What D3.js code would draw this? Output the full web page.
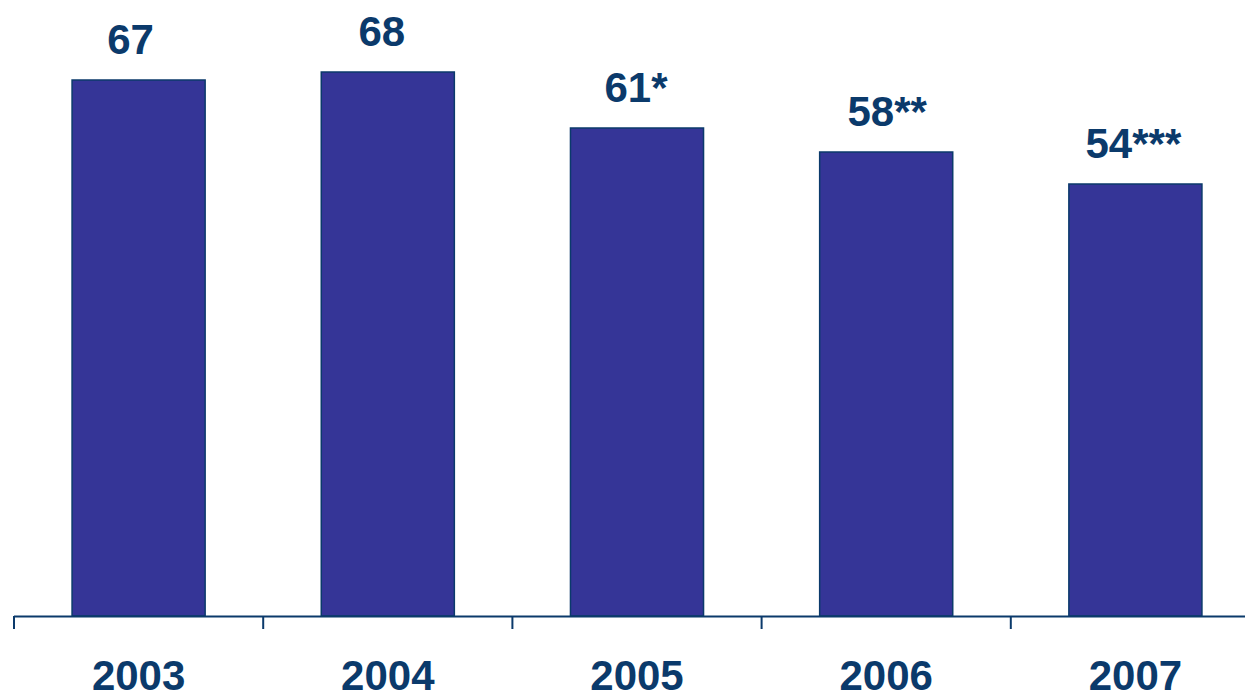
<!DOCTYPE html>
<html>
<head>
<meta charset="utf-8">
<script src="https://cdn.jsdelivr.net/npm/d3@7"></script>
<style>
  html, body { margin: 0; padding: 0; background: #ffffff; }
  svg { display: block; }
</style>
</head>
<body>
<svg id="chart" width="1245" height="694"></svg>
<script>
// Yearly values and their annotated labels
const years = ["2003", "2004", "2005", "2006", "2007"];
const values = [67, 68, 61, 58, 54];
const valueLabels = ["67", "68", "61*", "58**", "54***"];

const svg = d3.select("#chart");
const ink = "#0b3a6b";
const barFill = "#353597";

const x = d3.scaleBand()
  .domain(years)
  .range([14, 1260])
  .paddingInner(0.466)
  .paddingOuter(0.233);

const y = d3.scaleLinear()
  .domain([0, 77])
  .range([616, 0]);

// Bars
svg.selectAll("rect.bar")
  .data(years)
  .join("rect")
  .attr("class", "bar")
  .attr("x", d => x(d))
  .attr("width", x.bandwidth())
  .attr("y", (d, i) => y(values[i]))
  .attr("height", (d, i) => y(0) - y(values[i]))
  .attr("fill", barFill)
  .attr("stroke", ink)
  .attr("stroke-width", 1.5);

// Value labels above bars (the short labels sit a little left of centre)
const labelShift = [-8, -6, -1, 1, -2];
svg.selectAll("text.value")
  .data(years)
  .join("text")
  .attr("class", "value")
  .attr("x", (d, i) => x(d) + x.bandwidth() / 2 + labelShift[i])
  .attr("y", (d, i) => y(values[i]) - 26)
  .attr("text-anchor", "middle")
  .attr("font-family", "Liberation Sans, Arial, sans-serif")
  .attr("font-weight", "bold")
  .attr("font-size", 42)
  .attr("fill", ink)
  .text((d, i) => valueLabels[i]);

// Category axis: baseline with ticks at band boundaries
const axis = svg.append("g");
axis.append("line")
  .attr("x1", x.range()[0])
  .attr("x2", 1245)
  .attr("y1", y(0) + 0.5)
  .attr("y2", y(0) + 0.5)
  .attr("stroke", ink)
  .attr("stroke-width", 2);

const step = x.step();
const bounds = d3.range(years.length + 1).map(i => x.range()[0] + i * step);
axis.selectAll("line.tick")
  .data(bounds)
  .join("line")
  .attr("class", "tick")
  .attr("x1", d => d)
  .attr("x2", d => d)
  .attr("y1", y(0))
  .attr("y2", y(0) + 13)
  .attr("stroke", ink)
  .attr("stroke-width", 2);

axis.selectAll("text.year")
  .data(years)
  .join("text")
  .attr("class", "year")
  .attr("x", d => x(d) + x.bandwidth() / 2)
  .attr("y", 690)
  .attr("text-anchor", "middle")
  .attr("font-family", "Liberation Sans, Arial, sans-serif")
  .attr("font-weight", "bold")
  .attr("font-size", 42)
  .attr("fill", ink)
  .text(d => d);
</script>
</body>
</html>
